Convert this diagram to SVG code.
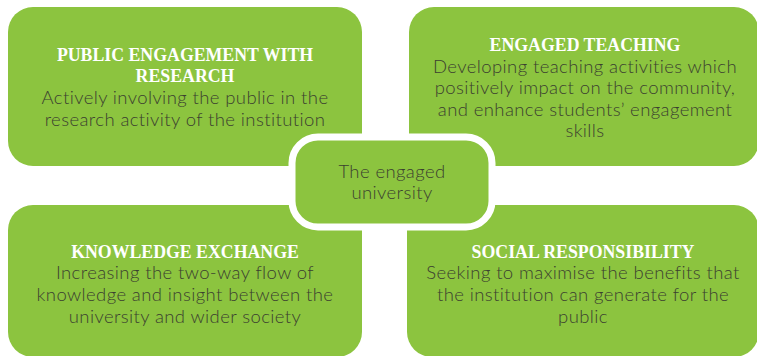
<svg xmlns="http://www.w3.org/2000/svg" width="757" height="356" viewBox="0 0 757 356">
<style>
.box{fill:#8cc43f}
.hub{fill:#8cc43f;stroke:#ffffff;stroke-width:7}
.title{font-family:"Liberation Serif",serif;font-weight:bold;font-size:17.8px;fill:#ffffff;text-anchor:middle}
.body{font-family:Lato,"Liberation Sans",sans-serif;font-weight:300;font-size:18.5px;letter-spacing:0.4px;fill:#3b4030;text-anchor:middle}
</style>
<rect width="757" height="356" fill="#ffffff"/>
<g id="public-engagement">
<rect class="box" x="8" y="7" width="354" height="159" rx="25"/>
<text class="title" x="185" y="61">PUBLIC ENGAGEMENT WITH</text>
<text class="title" x="185" y="82">RESEARCH</text>
<text class="body" x="185" y="104">Actively involving the public in the</text>
<text class="body" x="185" y="126">research activity of the institution</text>
</g>
<g id="engaged-teaching">
<rect class="box" x="409" y="7" width="350" height="159" rx="25"/>
<text class="title" x="585" y="51">ENGAGED TEACHING</text>
<text class="body" x="585" y="73">Developing teaching activities which</text>
<text class="body" x="585" y="94">positively impact on the community,</text>
<text class="body" x="585" y="116">and enhance students’ engagement</text>
<text class="body" x="585" y="137">skills</text>
</g>
<g id="knowledge-exchange">
<rect class="box" x="8" y="205" width="354" height="152" rx="25"/>
<text class="title" x="185" y="258">KNOWLEDGE EXCHANGE</text>
<text class="body" x="185" y="279">Increasing the two-way flow of</text>
<text class="body" x="185" y="301">knowledge and insight between the</text>
<text class="body" x="185" y="323">university and wider society</text>
</g>
<g id="social-responsibility">
<rect class="box" x="407" y="205" width="352" height="152" rx="25"/>
<text class="title" x="583" y="258">SOCIAL RESPONSIBILITY</text>
<text class="body" x="583" y="279">Seeking to maximise the benefits that</text>
<text class="body" x="583" y="301">the institution can generate for the</text>
<text class="body" x="583" y="323">public</text>
</g>
<g id="engaged-university">
<rect class="hub" x="292" y="137" width="200" height="90" rx="26"/>
<text class="body" x="392" y="178">The engaged</text>
<text class="body" x="392" y="199">university</text>
</g>
<g id="connectors"/>
</svg>
